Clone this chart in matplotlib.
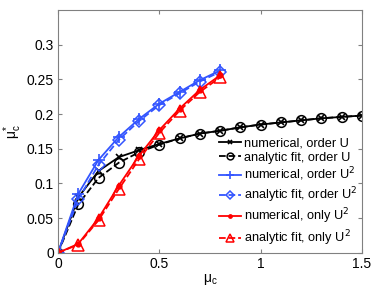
import matplotlib
matplotlib.use("Agg")
import matplotlib.pyplot as plt

plt.rcParams['font.family'] = ['Liberation Sans', 'DejaVu Sans']

mu_long = [0.0, 0.1, 0.2, 0.3, 0.4, 0.5, 0.6, 0.7, 0.8, 0.9, 1.0, 1.1, 1.2, 1.3, 1.4, 1.5]
mu_short = [0.0, 0.1, 0.2, 0.3, 0.4, 0.5, 0.6, 0.7, 0.8]

num_U = [0.0, 0.080, 0.118, 0.138, 0.148, 0.157, 0.165, 0.172, 0.176, 0.181, 0.185, 0.188, 0.191, 0.194, 0.196, 0.198]
fit_U = [0.0, 0.070, 0.108, 0.130, 0.145, 0.156, 0.165, 0.172, 0.176, 0.181, 0.185, 0.188, 0.191, 0.194, 0.196, 0.198]
num_U2 = [0.0, 0.085, 0.134, 0.167, 0.193, 0.215, 0.232, 0.249, 0.263]
fit_U2 = [0.0, 0.077, 0.127, 0.163, 0.190, 0.213, 0.230, 0.247, 0.261]
num_onlyU2 = [0.0, 0.013, 0.050, 0.097, 0.140, 0.177, 0.208, 0.235, 0.256]
fit_onlyU2 = [0.0, 0.012, 0.047, 0.092, 0.135, 0.173, 0.205, 0.232, 0.253]

labels = ['numerical, order U', 'analytic fit, order U',
          'numerical, order U$^2$', 'analytic fit, order U$^2$',
          'numerical, only U$^2$', 'analytic fit, only U$^2$']

blue = '#3355ff'
red = '#ff0000'

fig = plt.figure(figsize=(3.74, 2.88), dpi=100)
ax = fig.add_axes([0.155, 0.122, 0.813, 0.843])

lw = 1.3
ax.plot(mu_long, num_U, '-', color='k', marker='x', ms=5, mew=1.2, lw=lw, label=labels[0])
ax.plot(mu_long, fit_U, '--', color='k', marker='o', ms=7, mfc='none', mew=1.1, lw=lw, label=labels[1])
ax.plot(mu_short, num_U2, '-', color=blue, marker='+', ms=8, mew=1.2, lw=lw, label=labels[2])
ax.plot(mu_short, fit_U2, '--', color=blue, marker='D', ms=6, mfc='none', mew=1.1, lw=lw, label=labels[3])
ax.plot(mu_short, num_onlyU2, '-', color=red, marker='.', ms=7, lw=lw, label=labels[4])
ax.plot(mu_short, fit_onlyU2, '--', color=red, marker='^', ms=8, mfc='none', mew=1.1, lw=lw, label=labels[5])

ax.set_xlim(0, 1.5)
ax.set_ylim(0, 0.35)
ax.set_xticks([0, 0.5, 1, 1.5])
ax.set_xticklabels(['0', '0.5', '1', '1.5'])
ax.set_yticks([0, 0.05, 0.1, 0.15, 0.2, 0.25, 0.3])
ax.set_yticklabels(['0', '0.05', '0.1', '0.15', '0.2', '0.25', '0.3'])
ax.tick_params(direction='in', top=True, right=True, labelsize=10, length=3, color='#808080', pad=3)
for s in ax.spines.values():
    s.set_color('#808080')
    s.set_linewidth(0.8)

ax.set_xlabel('μ$_\\mathregular{c}$', fontsize=10, labelpad=1)
ax.set_ylabel('μ$_\\mathregular{c}^\\mathregular{*}$', fontsize=10, labelpad=2)

ax.legend(loc='lower right', frameon=False, fontsize=9.2, handlelength=1.7,
          handletextpad=0.2, labelspacing=0.15, borderaxespad=0.2, borderpad=0.2,
          markerscale=0.7)

fig.savefig('out.png', dpi=100)
